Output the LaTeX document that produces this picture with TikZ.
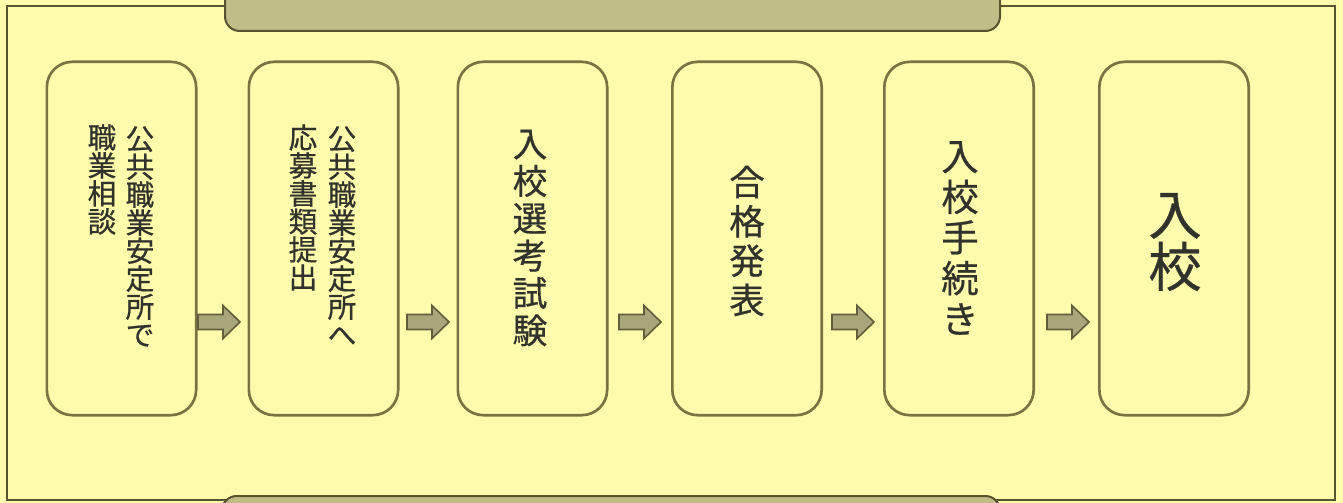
\documentclass[tikz,border=0pt]{standalone}
\usepackage{fontspec}
\newfontfamily\jp[BoldFont={Noto Sans CJK JP}, BoldFeatures={FakeBold=0.6}]{Noto Sans CJK JP}
\definecolor{bgyel}{RGB}{255,251,172}
\definecolor{frameline}{RGB}{88,84,48}
\definecolor{boxline}{RGB}{122,114,66}
\definecolor{tabfill}{RGB}{192,190,134}
\definecolor{arrfill}{RGB}{170,166,124}
\definecolor{arrline}{RGB}{98,94,60}
\definecolor{txt}{RGB}{50,50,45}
\begin{document}
\begin{tikzpicture}[x=0.75pt,y=-0.75pt,
  stepbox/.style={draw=boxline, line width=2pt, rounded corners=19pt, inner sep=0pt,
     minimum width=112pt, minimum height=265pt},
  vtxt/.style={align=center, inner sep=0pt, text=txt},
  smallv/.style={vtxt, font=\jp\bfseries\fontsize{21.5pt}{21pt}\selectfont},
  midv/.style={vtxt, font=\jp\bfseries\fontsize{26pt}{28pt}\selectfont},
  bigv/.style={vtxt, font=\jp\bfseries\fontsize{28pt}{30.5pt}\selectfont},
  hugev/.style={vtxt, font=\jp\bfseries\fontsize{40pt}{39pt}\selectfont},
  tabbox/.style={fill=tabfill, draw=frameline, line width=1.5pt, rounded corners=11pt},
  fatarrow/.pic={\draw[fill=arrfill, draw=arrline, line width=1.2pt, line join=miter]
     (-21,-7.5) -- (4,-7.5) -- (4,-16.5) -- (21,0) -- (4,16.5) -- (4,7.5) -- (-21,7.5) -- cycle;}
]
\useasboundingbox (0,0) rectangle (1343,503);
\fill[bgyel] (0,0) rectangle (1343,503);
% outer frame
\draw[frameline, line width=1.6pt] (7,6) rectangle (1335,500);
% title tabs (cut by the page edges)
\draw[tabbox] (225,-20) -- (225,31) -- (1000,31) -- (1000,-20) -- cycle;
\draw[tabbox] (222,530) -- (222,496) -- (1000,496) -- (1000,530) -- cycle;

% step boxes
\node[stepbox] (b1) at (121.5,238.5) {};
\node[stepbox] (b2) at (323.5,238.5) {};
\node[stepbox] (b3) at (532.5,238.5) {};
\node[stepbox] (b4) at (747,238.5) {};
\node[stepbox] (b5) at (959,238.5) {};
\node[stepbox] (b6) at (1174,238.5) {};

% texts
\node[smallv, anchor=north] (t1a) at (140,126) {公\\共\\職\\業\\安\\定\\所\\で};
\node[smallv, anchor=north] (t1b) at (102,124) {職\\業\\相\\談};
\node[smallv, anchor=north] (t2a) at (342,126) {公\\共\\職\\業\\安\\定\\所\\へ};
\node[smallv, anchor=north] (t2b) at (303,124) {応\\募\\書\\類\\提\\出};
\node[midv] (t3) at (530,238) {入\\校\\選\\考\\試\\験};
\node[midv, font=\jp\bfseries\fontsize{26.5pt}{29.5pt}\selectfont] (t4) at (747,241) {合\\格\\発\\表};
\node[bigv] (t5) at (960,238) {入\\校\\手\\続\\き};
\node[hugev] (t6) at (1175,242) {入\\校};

% arrows
\path (219,322) pic {fatarrow};
\path (428,322) pic {fatarrow};
\path (640,322) pic {fatarrow};
\path (853,322) pic {fatarrow};
\path (1068,322) pic {fatarrow};
\end{tikzpicture}
\end{document}
